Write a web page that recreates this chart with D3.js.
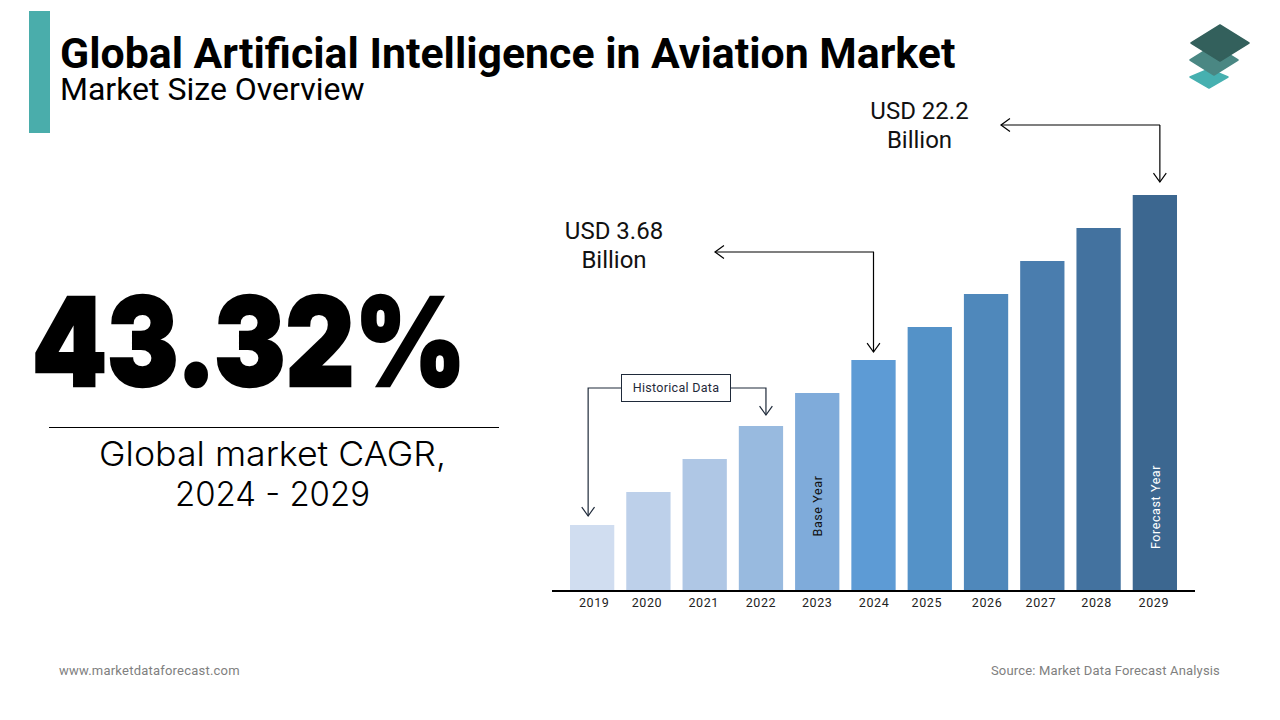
<!DOCTYPE html>
<html>
<head>
<meta charset="utf-8">
<script src="https://cdn.jsdelivr.net/npm/d3@7"></script>
<style>
  html, body { margin: 0; padding: 0; background: #fff; }
  svg { display: block; }
  text { font-family: Roboto, sans-serif; }
</style>
</head>
<body>
<script>
const years = ['2019', '2020', '2021', '2022', '2023', '2024', '2025', '2026', '2027', '2028', '2029'];
// bar heights as drawn in the picture (the chart is schematic, not to value scale)
const barValues = [65, 98, 131, 164, 197, 230, 263, 296, 329, 362, 395];
const palette = ['#d0ddf0', '#bdd0ea', '#afc7e5', '#98badf', '#7fabda', '#5d9bd5', '#5492c8', '#4f88bb', '#4a7dae', '#43729f', '#3c6790'];
const labelNudge = [2, -1.5, -1, 0, 0, 0.5, -3, 1, -1.5, -2, -1];

const svg = d3.select('body').append('svg')
  .attr('width', 1280)
  .attr('height', 720);

const x = d3.scaleBand()
  .domain(years)
  .range([564, 1183])
  .paddingInner(.213)
  .paddingOuter(.1065);

const y = d3.scaleLinear()
  .domain([0, 395])
  .range([590, 195]);

const color = d3.scaleOrdinal().domain(years).range(palette);

// header
svg.append('rect').attr('x', 29).attr('y', 11).attr('width', 21).attr('height', 122).attr('fill', '#4aadab');

svg.append('text')
  .attr('x', 60).attr('y', 68)
  .attr('font-size', 42.8).attr('font-weight', 700).attr('fill', '#000')
  .text('Global Artificial Intelligence in Aviation Market');

svg.append('text')
  .attr('x', 60).attr('y', 100)
  .attr('font-size', 32).attr('fill', '#000')
  .text('Market Size Overview');

// logo
const logo = [
  {fill: '#46b0b0', pts: '1209,69 1228,77 1209,88 1190,77'},
  {fill: '#4a8783', pts: '1214,45 1238,60 1214,75 1190,60'},
  {fill: '#33605c', pts: '1220,25 1249,43 1220,61 1191,43'}
];
svg.append('g').selectAll('polygon')
  .data(logo)
  .enter().append('polygon')
  .attr('points', d => d.pts)
  .attr('fill', d => d.fill)
  .attr('stroke', d => d.fill)
  .attr('stroke-width', 1.5)
  .attr('stroke-linejoin', 'round');

// left panel
svg.append('text')
  .attr('x', 249).attr('y', 385.5)
  .attr('text-anchor', 'middle')
  .attr('font-size', 123).attr('font-weight', 900)
  .style('font-family', 'Inter, sans-serif')
  .attr('textLength', 434).attr('lengthAdjust', 'spacingAndGlyphs')
  .attr('fill', '#000')
  .attr('stroke', '#000').attr('stroke-width', 2.5)
  .text('43.32%');

svg.append('line')
  .attr('x1', 49).attr('x2', 499)
  .attr('y1', 427.5).attr('y2', 427.5)
  .attr('stroke', '#000').attr('stroke-width', 1);

const cagrWidths = [347, 195];
svg.selectAll('.cagr')
  .data(['Global market CAGR,', '2024 - 2029'])
  .enter().append('text')
  .attr('class', 'cagr')
  .attr('x', 272.5)
  .attr('y', (d, i) => 466 + i * 40)
  .attr('text-anchor', 'middle')
  .attr('font-size', 34)
  .attr('textLength', (d, i) => cagrWidths[i])
  .attr('lengthAdjust', 'spacingAndGlyphs')
  .style('font-family', 'Inter, sans-serif')
  .style('font-weight', 300)
  .attr('fill', '#000')
  .text(d => d);

// bars
svg.selectAll('.bar')
  .data(years)
  .enter().append('rect')
  .attr('class', 'bar')
  .attr('x', d => x(d))
  .attr('y', (d, i) => y(barValues[i]))
  .attr('width', x.bandwidth())
  .attr('height', (d, i) => y(0) - y(barValues[i]))
  .attr('fill', d => color(d));

// axis
const xAxis = d3.axisBottom(x).tickSize(0).tickPadding(7);

const axisG = svg.append('g')
  .attr('class', 'x axis')
  .attr('transform', 'translate(0,' + 591 + ')')
  .call(xAxis);

axisG.select('.domain').remove();
axisG.selectAll('text')
  .attr('dx', (d, i) => labelNudge[i])
  .attr('font-size', 12.5)
  .style('letter-spacing', '.6px')
  .attr('fill', '#222')
  .style('font-family', 'Roboto, sans-serif');

svg.append('line')
  .attr('x1', 552).attr('x2', 1195)
  .attr('y1', 591).attr('y2', 591)
  .attr('stroke', '#000').attr('stroke-width', 2);

// labels inside bars
function barLabel(year, text, fill, midY) {
  const cx = x(year) + x.bandwidth() / 2;
  svg.append('text')
    .attr('transform', 'translate(' + (cx + 5) + ',' + midY + ') rotate(-90)')
    .attr('text-anchor', 'middle')
    .attr('font-size', 12.5)
    .style('letter-spacing', '.6px')
    .attr('fill', fill)
    .text(text);
}
barLabel('2023', 'Base Year', '#111', 506);
barLabel('2029', 'Forecast Year', '#fff', 507);

// arrows
function callout(points, stroke) {
  const line = d3.line();
  const tip = points[points.length - 1];
  const prev = points[points.length - 2];
  const group = svg.append('g')
    .attr('fill', 'none').attr('stroke', stroke).attr('stroke-width', 1.2);
  group.append('path').attr('d', line(points));
  const a = Math.atan2(tip[1] - prev[1], tip[0] - prev[0]);
  const head = [-0.62, 0.62].map(s => [tip[0] - 11 * Math.cos(a + s), tip[1] - 11 * Math.sin(a + s)]);
  group.append('path').attr('d', line([head[0], tip, head[1]]));
}

const cx = year => x(year) + x.bandwidth() / 2;

callout([[1160, 125], [1001, 125]], '#000');
callout([[cx('2029') + 5, 125], [cx('2029') + 5, y(barValues[10]) - 13]], '#000');
callout([[874, 252], [715, 252]], '#000');
callout([[cx('2024'), 252], [cx('2024'), y(barValues[5]) - 8]], '#000');
callout([[621, 388], [cx('2019') - 4, 388], [cx('2019') - 4, y(barValues[0]) - 9]], '#1f2a3a');
callout([[731, 388], [cx('2022') + 5, 388], [cx('2022') + 5, y(barValues[3]) - 11]], '#1f2a3a');

svg.append('rect')
  .attr('x', 621.5).attr('y', 374.5)
  .attr('width', 109).attr('height', 27)
  .attr('fill', '#fff').attr('stroke', '#1f2a3a');

svg.append('text')
  .attr('x', 676).attr('y', 392)
  .attr('text-anchor', 'middle')
  .attr('font-size', 12.5)
  .style('letter-spacing', '.3px')
  .attr('fill', '#1f2a3a')
  .text('Historical Data');

// value labels
const valueLabels = [
  {lines: ['USD 22.2', 'Billion'], cx: 919.5, top: 119},
  {lines: ['USD 3.68', 'Billion'], cx: 614, top: 239}
];
valueLabels.forEach(v => {
  svg.selectAll(null)
    .data(v.lines)
    .enter().append('text')
    .attr('x', v.cx)
    .attr('y', (d, i) => v.top + i * 29)
    .attr('text-anchor', 'middle')
    .attr('font-size', 24)
    .attr('fill', '#111')
    .text(d => d);
});

// footer
svg.append('text')
  .attr('x', 59).attr('y', 675)
  .attr('font-size', 13).attr('fill', '#808080')
  .style('letter-spacing', '.22px')
  .text('www.marketdataforecast.com');

svg.append('text')
  .attr('x', 1220).attr('y', 675)
  .attr('text-anchor', 'end')
  .attr('font-size', 13).attr('fill', '#808080')
  .style('letter-spacing', '.17px')
  .text('Source: Market Data Forecast Analysis');
</script>
</body>
</html>
